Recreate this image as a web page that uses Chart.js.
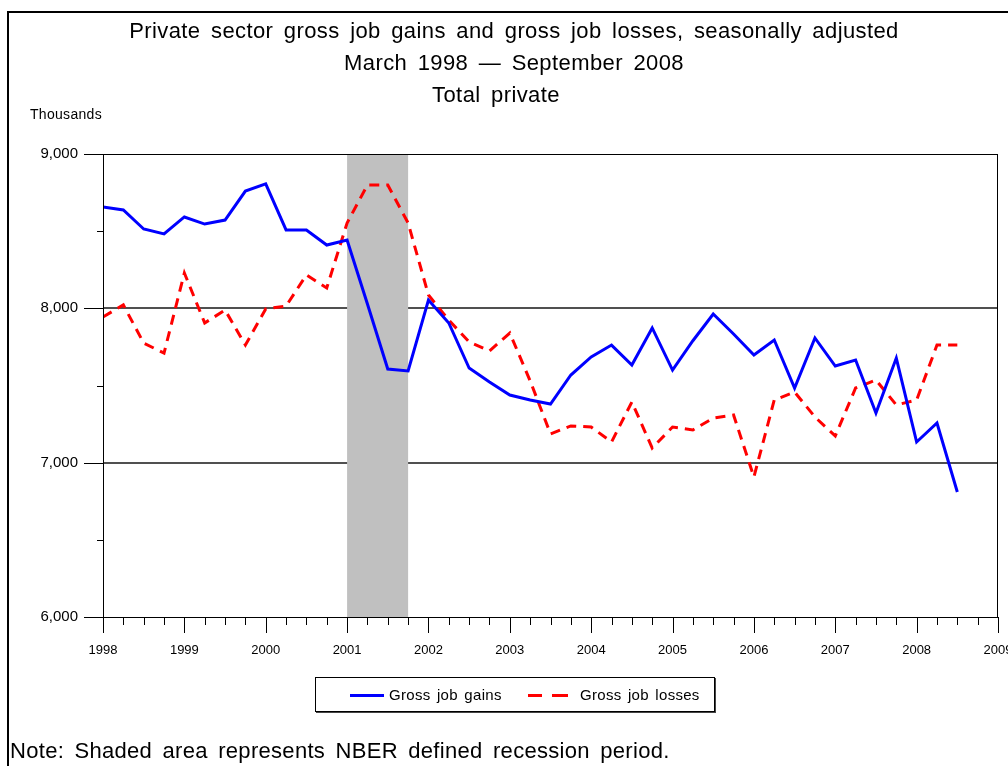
<!DOCTYPE html>
<html><head><meta charset="utf-8">
<script src="https://cdn.jsdelivr.net/npm/chart.js@4.4.1/dist/chart.umd.min.js"></script>
<style>
html,body{margin:0;padding:0;background:#fff;}
#wrap{position:relative;width:1008px;height:766px;overflow:hidden;font-family:"Liberation Sans",Arial,sans-serif;color:#000;background:#fff;}
#frame{position:absolute;left:7px;top:11px;width:1100px;height:900px;border-left:2px solid #000;border-top:2px solid #000;}
canvas{position:absolute;left:0;top:0;}
.t{position:absolute;left:0;width:1028px;text-align:center;font-size:22px;line-height:26px;white-space:nowrap;word-spacing:4px;letter-spacing:0.4px;}
#thous{position:absolute;left:30px;top:106px;font-size:14px;line-height:16px;letter-spacing:0.3px;}
#legend{position:absolute;left:315px;top:677px;width:398px;height:33px;border:1px solid #000;box-shadow:1px 1px 0 #444;}
.sw{position:absolute;height:3px;}
.lt{position:absolute;font-size:15px;line-height:18px;white-space:nowrap;letter-spacing:0.3px;word-spacing:2px;}
#note{position:absolute;left:10px;top:738px;font-size:22px;line-height:26px;white-space:nowrap;word-spacing:4px;letter-spacing:0.3px;}
</style></head>
<body>
<div id="wrap">
<div id="frame"></div>
<canvas id="c" width="1008" height="766"></canvas>
<div class="t" style="top:18px">Private sector gross job gains and gross job losses, seasonally adjusted</div>
<div class="t" style="top:50px">March 1998 — September 2008</div>
<div class="t" style="top:82px;width:992px">Total private</div>
<div id="thous">Thousands</div>
<div id="legend">
  <div class="sw" style="left:34px;top:16px;width:34px;background:#0000ff"></div>
  <div class="lt" style="left:73px;top:8px">Gross job gains</div>
  <div class="sw" style="left:212px;top:16px;width:14px;background:#ff0000"></div>
  <div class="sw" style="left:236px;top:16px;width:16px;background:#ff0000"></div>
  <div class="lt" style="left:264px;top:8px">Gross job losses</div>
</div>
<div id="note">Note: Shaded area represents NBER defined recession period.</div>
</div>
<script>
// ---- data ----
const startYear = 1998;
const quarters = [];
for (let i = 0; i < 43; i++) quarters.push((startYear + Math.floor(i / 4)) + 'Q' + (i % 4 + 1));
const yearTicks = [1998,1999,2000,2001,2002,2003,2004,2005,2006,2007,2008,2009];
const yTicks = [6000,7000,8000,9000];
const gains = [8657,8637,8514,8482,8592,8546,8572,8760,8806,8508,8508,8410,8443,
  8028,7607,7594,8054,7905,7613,7523,7438,7406,7380,7568,7685,7762,
  7633,7873,7600,7790,7963,7834,7698,7795,7484,7808,7626,7665,7322,7678,7134,7257,6810];
const losses = [7944,8022,7775,7710,8229,7905,7989,7762,7996,8015,8216,8132,8553,
  8799,8799,8553,8086,7924,7782,7724,7840,7530,7186,7238,7231,7134,
  7393,7095,7231,7212,7289,7309,6907,7406,7458,7296,7173,7484,7536,7374,7406,7762,7762];
const recession = ['2001Q1','2001Q4'];

function qToX(q){ const y = parseInt(q.slice(0,4)); const n = parseInt(q.slice(5)); return y + (n-1)/4; }

Chart.defaults.font.family = "'Liberation Sans', Arial, sans-serif";
Chart.defaults.color = '#000';

const decor = {
  id:'decor',
  beforeDatasetsDraw(chart){
    const {ctx, chartArea:a, scales:{x,y}} = chart;
    ctx.save();
    ctx.strokeStyle = '#505050'; ctx.lineWidth = 2;
    [7000,8000].forEach(v=>{ const py = Math.round(y.getPixelForValue(v)); ctx.beginPath(); ctx.moveTo(a.left,py); ctx.lineTo(a.right,py); ctx.stroke(); });
    const x0 = x.getPixelForValue(qToX(recession[0]));
    const x1 = x.getPixelForValue(qToX(recession[1]));
    ctx.fillStyle = '#c0c0c0';
    ctx.fillRect(x0, a.top, x1-x0, a.bottom-a.top);
    ctx.restore();
  },
  afterDatasetsDraw(chart){
    const {ctx, chartArea:a, scales:{x,y}} = chart;
    ctx.save();
    ctx.strokeStyle = '#000'; ctx.lineWidth = 1;
    ctx.strokeRect(Math.round(a.left)+0.5, Math.round(a.top)+0.5, Math.round(a.right-a.left)-1, Math.round(a.bottom-a.top));
    ctx.beginPath();
    for (let v = 6000; v <= 9000; v += 500){
      const py = Math.round(y.getPixelForValue(v))+0.5;
      const len = (v % 1000 === 0) ? 19 : 6;
      ctx.moveTo(a.left - len, py); ctx.lineTo(a.left, py);
    }
    for (let yr = 1998; yr <= 2009; yr++){
      for (let q = 0; q < 4; q++){
        const v = yr + q/4; if (v > 2009) break;
        const px = Math.round(x.getPixelForValue(v))+0.5;
        const len = q === 0 ? 16 : 8;
        ctx.moveTo(px, a.bottom); ctx.lineTo(px, a.bottom + len);
      }
    }
    ctx.stroke();
    ctx.restore();
  }
};

new Chart(document.getElementById('c'), {
  type:'line',
  data:{datasets:[
    {label:'Gross job gains', data: quarters.map((q,i)=>({x:qToX(q), y:gains[i]})), borderColor:'#0000ff', borderWidth:3, pointRadius:0, tension:0, fill:false},
    {label:'Gross job losses', data: quarters.map((q,i)=>({x:qToX(q), y:losses[i]})), borderColor:'#ff0000', borderWidth:3, borderDash:[10,7], pointRadius:0, tension:0, fill:false}
  ]},
  options:{
    responsive:false, animation:false, devicePixelRatio:1,
    layout:{padding:{left:0, top:154, right:10, bottom:109}},
    plugins:{legend:{display:false}, title:{display:false}, tooltip:{enabled:false}},
    scales:{
      x:{type:'linear', min:1998, max:2009,
         grid:{display:false, drawTicks:false}, border:{display:false},
         afterBuildTicks(s){ s.ticks = yearTicks.map(v=>({value:v})); },
         ticks:{padding:26, autoSkip:false, maxRotation:0, font:{size:13}, callback:v=>String(v)},
         afterFit(s){ s.height = 40; s.paddingLeft = 0; s.paddingRight = 0; }},
      y:{min:6000, max:9000,
         grid:{display:false, drawTicks:false}, border:{display:false},
         afterBuildTicks(s){ s.ticks = yTicks.map(v=>({value:v})); },
         ticks:{padding:25, font:{size:15}, callback:v=>Number(v).toLocaleString('en-US')},
         afterFit(s){ s.width = 103; s.paddingTop = 0; s.paddingBottom = 0; }}
    }
  },
  plugins:[decor]
});
</script>
</body></html>
